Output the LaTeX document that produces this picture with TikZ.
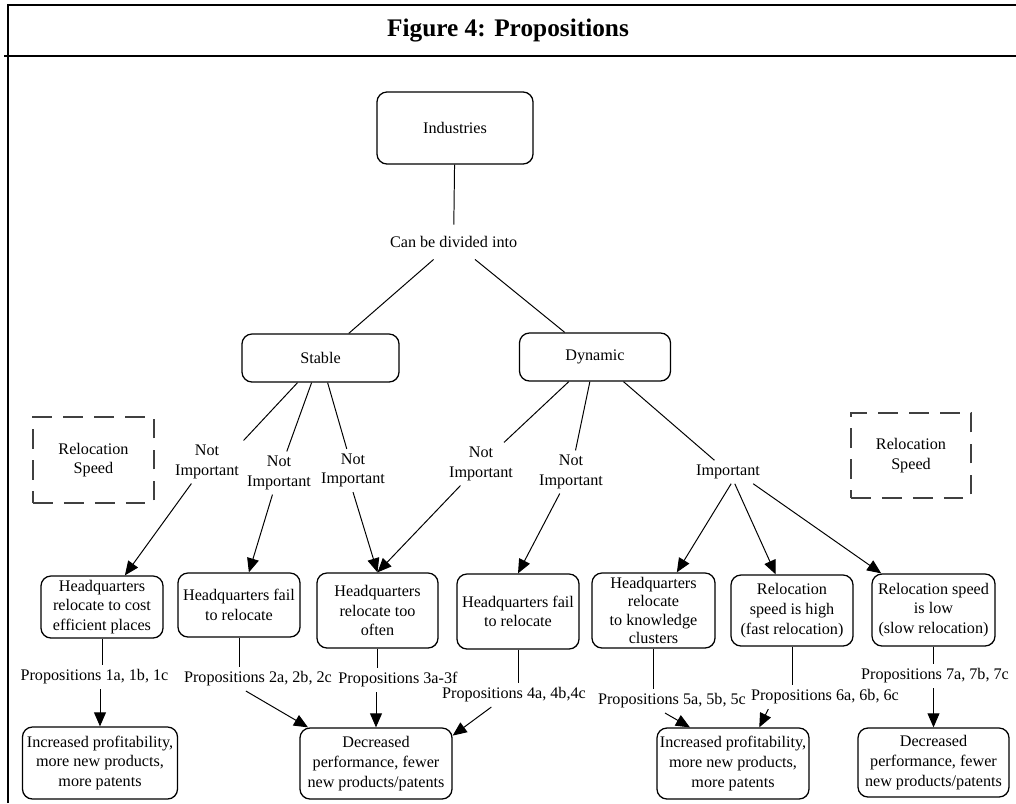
\documentclass[tikz,border=0pt]{standalone}
\usepackage{fontspec}
\setmainfont{Liberation Serif}
\usetikzlibrary{arrows.meta}
\tikzset{main node/.style={draw,rounded corners=0.25cm,align=center,inner sep=1pt,line width=0.9pt,font=\fontsize{11.5}{14}\selectfont},
	text node/.style={align=center,inner sep=3pt,font=\fontsize{11.5}{14}\selectfont},
	speed node/.style={draw=black!75,dash pattern=on 14pt off 8pt,line width=1pt,align=center,font=\fontsize{11.5}{14}\selectfont,minimum width=3.025cm,minimum height=2.15cm},}

\begin{document}
\begin{tikzpicture}[x=0.025cm, y=-0.025cm, >={Triangle[length=10pt,width=8.5pt]}, line width=0.7pt]
	\useasboundingbox (0,0) rectangle (1016,803);
	% frame and title
	\draw[line width=0.9pt] (8,803) -- (8,5) -- (1016,5);
	\draw[line width=0.9pt] (4,56) -- (1016,56);
	\node[font=\fontsize{18}{20}\selectfont\bfseries] (title) at (508,31) {Figure 4: Propositions};

	\node[main node, minimum width=3.9cm, minimum height=1.8cm] (ind) at (455,128) {Industries};
	\node[text node, inner ysep=8pt] (div) at (453.6,242) {Can be divided into};
	\node[main node, minimum width=3.925cm, minimum height=1.2cm] (stable) at (320.5,358) {Stable};
	\node[main node, minimum width=3.775cm, minimum height=1.2cm] (dynamic) at (595,357) {Dynamic};

	\node[speed node] (speedl) at (93.5,460) {Relocation\\Speed};
	\node[speed node, minimum width=3cm, minimum height=2.125cm] (speedr) at (911,455.5) {Relocation\\Speed};

	\node[text node] (ni1) at (207,462) {Not\\Important};
	\node[text node] (ni2) at (279,473) {Not\\Important};
	\node[text node] (ni3) at (353,470.5) {Not\\Important};
	\node[text node] (ni4) at (481,464) {Not\\Important};
	\node[text node] (ni5) at (571,472) {Not\\Important};
	\node[text node] (imp) at (728,472) {Important};

	\node[main node, minimum width=3.05cm, minimum height=1.55cm] (hq1) at (102,607) {Headquarters\\relocate to cost\\efficient places};
	\node[main node, minimum width=3.05cm, minimum height=1.6cm] (hq2) at (239,605) {Headquarters fail\\to relocate};
	\node[main node, minimum width=3.025cm, minimum height=1.875cm] (hq3) at (377.5,610.5) {Headquarters\\relocate too\\often};
	\node[main node, minimum width=3.05cm, minimum height=1.875cm] (hq4) at (518,611.5) {Headquarters fail\\to relocate};
	\node[main node, minimum width=3.075cm, minimum height=1.875cm, font=\fontsize{11.5}{13.2}\selectfont] (hq5) at (653.5,610.5) {Headquarters\\relocate\\to knowledge\\clusters};
	\node[main node, minimum width=3.05cm, minimum height=1.775cm] (high) at (792,610.5) {Relocation\\speed is high\\(fast relocation)};
	\node[main node, minimum width=3.075cm, minimum height=1.8cm] (low) at (933.5,610) {Relocation speed\\is low\\(slow relocation)};

	\node[text node] (p1) at (94.5,677) {Propositions 1a, 1b, 1c};
	\node[text node] (p2) at (258,679) {Propositions 2a, 2b, 2c};
	\node[text node] (p3) at (398,680) {Propositions 3a-3f};
	\node[text node] (p4) at (514,695) {Propositions 4a, 4b,4c};
	\node[text node] (p5) at (672,701) {Propositions 5a, 5b, 5c};
	\node[text node] (p6) at (825,697) {Propositions 6a, 6b, 6c};
	\node[text node] (p7) at (935,676) {Propositions 7a, 7b, 7c};

	\node[main node, minimum width=3.875cm, minimum height=1.8cm] (out1) at (100,763) {Increased profitability,\\more new products,\\more patents};
	\node[main node, minimum width=3.8cm, minimum height=1.775cm] (out2) at (376,763.5) {Decreased\\performance, fewer\\new products/patents};
	\node[main node, minimum width=3.8cm, minimum height=1.775cm] (out3) at (733,763.5) {Increased profitability,\\more new products,\\more patents};
	\node[main node, minimum width=3.775cm, minimum height=1.725cm] (out4) at (933.5,762.5) {Decreased\\performance, fewer\\new products/patents};

	\path[draw]
	(ind) edge (div)
	(div) edge (stable)
	(div) edge (dynamic)
	(stable) edge (ni1.north east)
	(stable) edge (ni2)
	(stable) edge (ni3)
	(dynamic) edge (ni4)
	(dynamic) edge (ni5)
	(dynamic) edge (imp)
	(ni1) edge[->] (hq1)
	(ni2) edge[->] (hq2)
	(ni3.south) edge[->] (hq3.north)
	(ni4) edge[->] (hq3.north)
	(ni5) edge[->] (hq4.north)
	(imp.-75) edge[->] (hq5)
	(imp.-60) edge[->] (high)
	(imp.-25) edge[->] (low)
	(hq1.south) edge (hq1.south |- p1.north)
	(out1.north |- p1.south) edge[->] (out1.north)
	(hq2.south) edge (hq2.south |- p2.north)
	(p2.225) edge[->] (out2.152)
	(hq3.south) edge (hq3.south |- p3.north)
	(out2.north |- p3.south) edge[->] (out2.north)
	(hq4.south) edge (hq4.south |- p4.north)
	(p4.208) edge[->] (out2.20)
	(hq5.south) edge (hq5.south |- p5.north)
	(p5.240) edge[->] (out3.140)
	(high.south) edge (high.south |- p6.north)
	(p6.192) edge[->] (out3.54)
	(low.south) edge (low.south |- p7.north)
	(out4.north |- p7.south) edge[->] (out4.north);
\end{tikzpicture}
\end{document}
